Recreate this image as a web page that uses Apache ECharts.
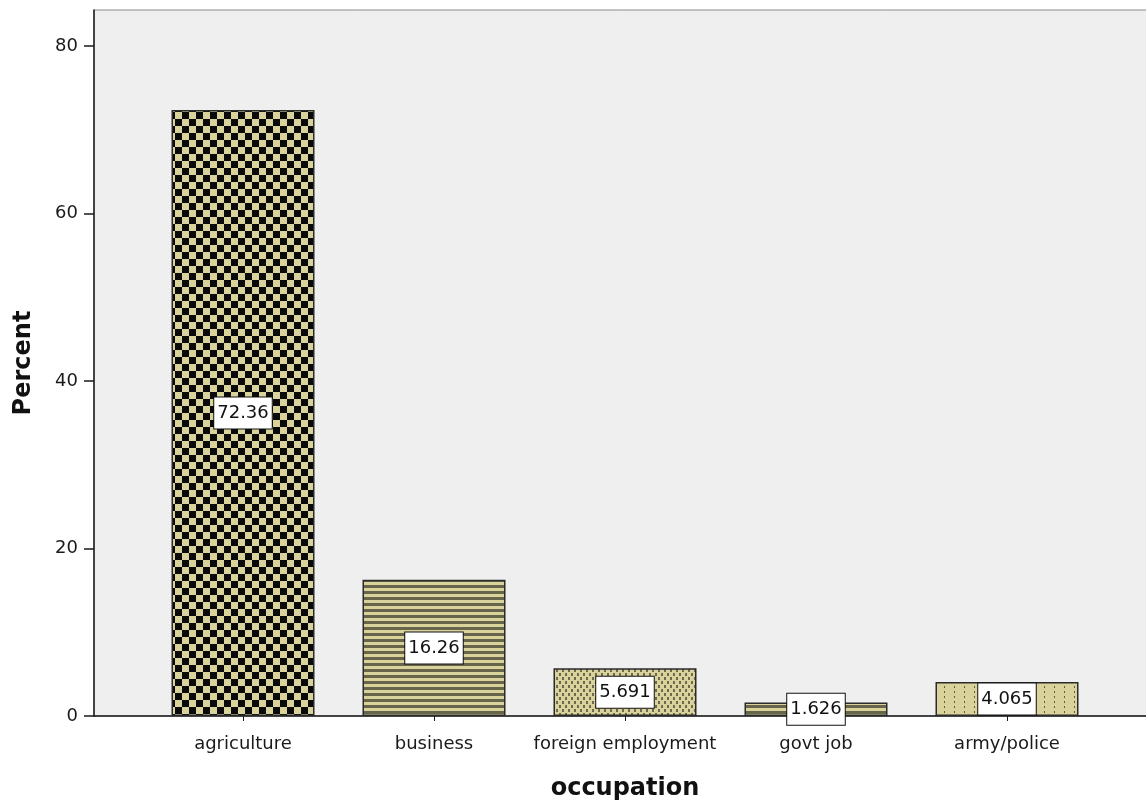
<!DOCTYPE html>
<html>
<head>
<meta charset="utf-8">
<title>occupation</title>
<script src="https://cdn.jsdelivr.net/npm/echarts@6/dist/echarts.min.js"></script>
<style>
  html, body { margin: 0; padding: 0; background: #ffffff; }
  #chart { width: 1146px; height: 803px; }
</style>
</head>
<body>
<div id="chart"></div>
<script>
// Occupation distribution (percent of respondents)
const categories = ['agriculture', 'business', 'foreign employment', 'govt job', 'army/police'];
const percents = [72.36, 16.26, 5.691, 1.626, 4.065];
const yTicks = [0, 20, 40, 60, 80];
const yMax = 84.3;

const KHAKI = '#d9d39b';

// Small canvas tiles used as fill patterns for the bars
function tile(w, h, draw) {
  const c = document.createElement('canvas');
  c.width = w; c.height = h;
  const g = c.getContext('2d');
  g.fillStyle = KHAKI;
  g.fillRect(0, 0, w, h);
  draw(g);
  return { image: c, repeat: 'repeat' };
}

const checker = tile(14, 14, g => {
  g.fillStyle = '#0a0a0a';
  g.fillRect(0, 0, 7, 7);
  g.fillRect(7, 7, 7, 7);
});

const stripes = tile(4, 6, g => {
  g.fillStyle = '#66644a';
  g.fillRect(0, 3, 4, 3);
});

const dots = tile(6, 8, g => {
  g.fillStyle = '#6c6a50';
  g.fillRect(1, 1, 2, 3);
  g.fillRect(4, 5, 2, 3);
});

const vdots = tile(10, 5, g => {
  g.fillStyle = '#5e5c44';
  g.fillRect(4, 1, 1, 2);
});

const fills = [checker, stripes, dots, stripes, vdots];

const chart = echarts.init(document.getElementById('chart'), null, { renderer: 'canvas' });

const font = 'DejaVu Sans';

chart.setOption({
  animation: false,
  backgroundColor: '#ffffff',
  grid: [
    { left: 94, top: 10, right: -2, bottom: 87, outerBoundsMode: 'none', containLabel: false,
      show: true, backgroundColor: '#efefef', borderColor: '#8a8a8a', borderWidth: 1 },
    { left: 147.5, top: 10, width: 955, bottom: 87, outerBoundsMode: 'none', containLabel: false }
  ],
  xAxis: [
    { gridIndex: 0, type: 'value', min: 0, max: 1,
      axisLine: { show: true, onZero: false, lineStyle: { color: '#1a1a1a', width: 1.5 } },
      axisTick: { show: false }, axisLabel: { show: false }, splitLine: { show: false } },
    { gridIndex: 1, type: 'category', data: categories,
      axisLine: { show: false },
      axisTick: { show: true, alignWithLabel: true, interval: 0, length: 5, lineStyle: { color: '#1a1a1a', width: 1 } },
      axisLabel: { interval: 0, margin: 19, fontFamily: font, fontSize: 18, color: '#1a1a1a' },
      name: 'occupation', nameLocation: 'middle', nameGap: 61,
      nameTextStyle: { fontFamily: font, fontSize: 24, fontWeight: 'bold', color: '#111111' } }
  ],
  yAxis: [
    { gridIndex: 0, type: 'value', min: 0, max: yMax,
      axisLine: { show: true, lineStyle: { color: '#1a1a1a', width: 1.5 } },
      axisTick: { show: true, length: 10, customValues: yTicks, lineStyle: { color: '#1a1a1a', width: 1.5 } },
      axisLabel: { customValues: yTicks, margin: 16, fontFamily: font, fontSize: 18, color: '#1a1a1a' },
      splitLine: { show: false },
      name: 'Percent', nameLocation: 'middle', nameGap: 58, nameRotate: 90,
      nameTextStyle: { fontFamily: font, fontSize: 24, fontWeight: 'bold', color: '#111111' } },
    { gridIndex: 1, type: 'value', min: 0, max: yMax, show: false }
  ],
  series: [{
    type: 'bar',
    xAxisIndex: 1, yAxisIndex: 1,
    barWidth: 143,
    data: percents.map((v, i) => ({
      value: v,
      itemStyle: { color: fills[i], borderColor: '#2b2b2b', borderWidth: 1.5 }
    })),
    label: {
      show: true, position: 'inside',
      formatter: p => String(percents[p.dataIndex]),
      fontFamily: font, fontSize: 18, color: '#111111',
      backgroundColor: '#ffffff', borderColor: '#111111', borderWidth: 1,
      padding: [7, 3, 6, 3]
    }
  }]
});
</script>
</body>
</html>
